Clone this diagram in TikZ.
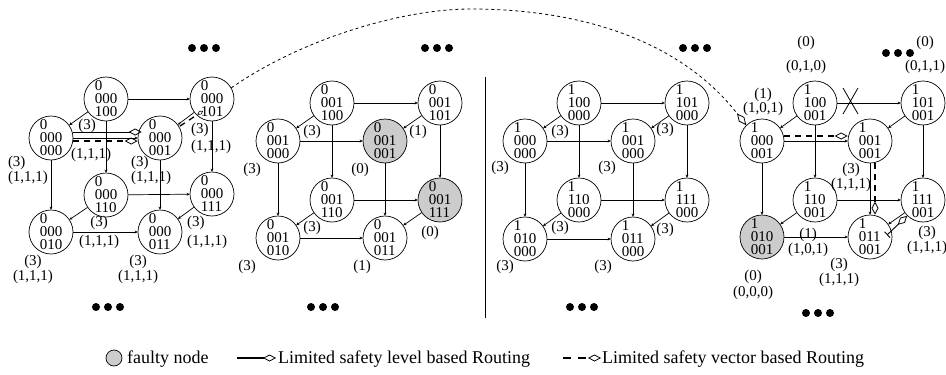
\documentclass[tikz,border=0pt]{standalone}
\usepackage{fontspec}
\setmainfont{Liberation Serif}
\usetikzlibrary{arrows.meta}

\begin{document}
\begin{tikzpicture}[x = 1pt, y = -1pt,
        vertex/.style = {draw, circle, minimum size = 44pt, inner sep = 0pt, align = left,
            line width = 0.7pt, font = \fontsize{15}{13}\selectfont},
        faulty/.style = {vertex, fill = black!20},
        lbl/.style = {inner sep = 0pt, align = center, font = \fontsize{15}{15}\selectfont},
        link/.style = {-{Stealth[length = 3pt, width = 3pt]}, line width = 0.7pt},
        levelroute/.style = {-{Diamond[open, length = 13pt, width = 7pt, line width = 0.8pt]}, line width = 0.9pt},
        vectorroute/.style = {-{Diamond[open, length = 13pt, width = 7pt, line width = 0.8pt]}, line width = 1.3pt,
            dash pattern = on 6pt off 5pt},
        legendtext/.style = {anchor = base west, inner sep = 0pt, font = \fontsize{18}{18}\selectfont}]
    \useasboundingbox (0, 0) rectangle (946, 375);

    % first cube
    \node [vertex] (A000) at (51, 138) {0\\000\\000};
    \node [vertex] (A001) at (160, 138) {0\\000\\001};
    \node [vertex] (A100) at (106, 99) {0\\000\\100};
    \node [vertex] (A101) at (212, 99) {0\\000\\101};
    \node [vertex] (A110) at (106, 195) {0\\000\\110};
    \node [vertex] (A111) at (212, 194) {0\\000\\111};
    \node [vertex] (A010) at (51, 232) {0\\000\\010};
    \node [vertex] (A011) at (160, 232) {0\\000\\011};
    \draw [link] (A000) edge (A001) edge (A010)
        (A100) edge (A101) edge (A000) edge (A110)
        (A101) edge (A001) edge (A111)
        (A110) edge (A111) edge (A010)
        (A111) edge (A011)
        (A001) edge (A011)
        (A010) edge (A011);
    \node [lbl] (A100a) at (87, 126) {(3)};
    \node [lbl] (A100b) at (91, 155) {(1,1,1)};
    \node [lbl, align = left] (A000l) at (28, 170.5) {(3)\\(1,1,1)};
    \node [lbl, align = left] (A001l) at (151, 170.5) {(3)\\(1,1,1)};
    \node [lbl, align = left] (A101l) at (211, 138.5) {(3)\\[2pt](1,1,1)};
    \node [lbl] (A110l) at (99, 232.5) {(3)\\[4pt](1,1,1)};
    \node [lbl, align = left] (A111l) at (207, 232.5) {(3)\\[4pt](1,1,1)};
    \node [lbl] (A010l) at (33, 269.5) {(3)\\(1,1,1)};
    \node [lbl] (A011l) at (138, 269.5) {(3)\\(1,1,1)};
    \fill (192, 48) circle (4pt) (204, 48) circle (4pt) (216, 48) circle (4pt);
    \fill (96, 307) circle (4pt) (108, 307) circle (4pt) (120, 307) circle (4pt);

    % second cube
    \node [vertex] (B000) at (278, 141) {0\\001\\000};
    \node [faulty] (B001) at (385, 141) {0\\001\\001};
    \node [vertex] (B100) at (332, 103) {0\\001\\100};
    \node [vertex] (B101) at (440, 103) {0\\001\\101};
    \node [vertex] (B110) at (332, 200) {0\\001\\110};
    \node [faulty] (B111) at (440, 200) {0\\001\\111};
    \node [vertex] (B010) at (278, 238) {0\\001\\010};
    \node [vertex] (B011) at (385, 238) {0\\001\\011};
    \draw [link] (B000) edge (B001) edge (B010)
        (B100) edge (B101) edge (B000) edge (B110)
        (B101) edge (B001) edge (B111)
        (B110) edge (B111) edge (B010)
        (B111) edge (B011)
        (B001) edge (B011)
        (B010) edge (B011);
    \node [lbl] (B100l) at (312, 132) {(3)};
    \node [lbl] (B101l) at (418, 132) {(1)};
    \node [lbl] (B000l) at (252, 170) {(3)};
    \node [lbl] (B001l) at (360, 170) {(0)};
    \node [lbl] (B110l) at (312, 228) {(3)};
    \node [lbl] (B111l) at (430, 233) {(0)};
    \node [lbl] (B010l) at (247, 267) {(3)};
    \node [lbl] (B011l) at (362, 267) {(1)};
    \fill (425, 48) circle (4pt) (437, 48) circle (4pt) (449, 48) circle (4pt);
    \fill (311, 307) circle (4pt) (323, 307) circle (4pt) (335, 307) circle (4pt);

    \draw [line width = 1pt] (485, 77) -- (485, 318);

    % third cube
    \node [vertex] (C000) at (525, 141) {1\\000\\000};
    \node [vertex] (C001) at (633, 141) {1\\001\\000};
    \node [vertex] (C100) at (579, 103) {1\\100\\000};
    \node [vertex] (C101) at (687, 103) {1\\101\\000};
    \node [vertex] (C110) at (579, 200) {1\\110\\000};
    \node [vertex] (C111) at (687, 200) {1\\111\\000};
    \node [vertex] (C010) at (525, 239) {1\\010\\000};
    \node [vertex] (C011) at (633, 239) {1\\011\\000};
    \draw [link] (C000) edge (C001) edge (C010)
        (C100) edge (C101) edge (C000) edge (C110)
        (C101) edge (C001) edge (C111)
        (C110) edge (C111) edge (C010)
        (C111) edge (C011)
        (C001) edge (C011)
        (C010) edge (C011);
    \node [lbl] (C100l) at (560, 132) {(3)};
    \node [lbl] (C101l) at (665, 130) {(3)};
    \node [lbl] (C000l) at (500, 168) {(3)};
    \node [lbl] (C001l) at (607, 168) {(3)};
    \node [lbl] (C110l) at (560, 228) {(3)};
    \node [lbl] (C111l) at (665, 230) {(3)};
    \node [lbl] (C010l) at (505, 267) {(3)};
    \node [lbl] (C011l) at (603, 267) {(3)};
    \fill (683, 48) circle (4pt) (695, 48) circle (4pt) (707, 48) circle (4pt);
    \fill (570, 307) circle (4pt) (582, 307) circle (4pt) (594, 307) circle (4pt);

    % fourth cube
    \node [vertex] (D000) at (762, 141) {1\\000\\001};
    \node [vertex] (D001) at (870, 141) {1\\001\\001};
    \node [vertex] (D100) at (815, 103) {1\\100\\001};
    \node [vertex] (D101) at (923, 103) {1\\101\\001};
    \node [vertex] (D110) at (815, 200) {1\\110\\001};
    \node [vertex] (D111) at (923, 200) {1\\111\\001};
    \node [faulty] (D010) at (762, 237) {1\\010\\001};
    \node [vertex] (D011) at (870, 237) {1\\011\\001};
    \draw [link] (D000) edge (D001) edge (D010)
        (D100) edge (D101) edge (D000) edge (D110)
        (D101) edge (D001) edge (D111)
        (D110) edge (D111) edge (D010)
        (D111) edge (D011)
        (D001) edge (D011)
        (D010) edge (D011);
    \draw [line width = 0.8pt] (843, 88) -- (858, 114) (858, 88) -- (843, 114);
    \node [lbl] (D100l) at (806, 55) {(0)\\[9pt](0,1,0)};
    \node [lbl] (D101l) at (925, 55) {(0)\\[9pt](0,1,1)};
    \node [lbl] (D000l) at (763, 102) {(1)\\[-1pt](1,0,1)};
    \node [lbl] (D001l) at (851, 177.5) {(3)\\(1,1,1)};
    \node [lbl] (D110l) at (808, 242.5) {(1)\\(1,0,1)};
    \node [lbl] (D111l) at (927, 240.5) {(3)\\(1,1,1)};
    \node [lbl] (D011l) at (839, 272.5) {(3)\\(1,1,1)};
    \node [lbl] (D010l) at (753, 285) {(0)\\[1pt](0,0,0)};
    \fill (886, 53) circle (4pt) (898, 53) circle (4pt) (910, 53) circle (4pt);
    \fill (806, 313) circle (4pt) (818, 313) circle (4pt) (830, 313) circle (4pt);

    % routes
    \draw [levelroute] ([yshift = 6pt]A000.east) -- ([xshift = 4pt, yshift = 6pt]A001.west);
    \draw [vectorroute] ([yshift = -3pt]A000.east) -- ([yshift = -3pt]A001.west);
    \draw [vectorroute, -{Diamond[open, length = 7pt, width = 4pt, line width = 0.6pt]}]
        ([xshift = 4pt, yshift = -4pt]A001.north east) -- ([xshift = 7pt, yshift = 4pt]A101.south west);
    \draw [dashed, line width = 0.8pt, -{Diamond[open, length = 15pt, width = 7pt]}]
        (A101.30) .. controls (300, 40) and (400, 9) .. (471, 9)
        .. controls (580, 9) and (680, 40) .. (D000.north west);
    \draw [vectorroute] ([yshift = 5pt]D000.east) -- ([yshift = 5pt]D001.west);
    \draw [vectorroute] ([xshift = 5pt]D001.south) -- ([xshift = 5pt]D011.north);
    \draw [levelroute, {Bar[width = 8pt]}-{Diamond[open, length = 13pt, width = 7pt, line width = 0.8pt]}]
        ([xshift = 17pt, yshift = 2pt]D011.center) -- (D111.225);

    % legend
    \node [faulty, minimum size = 16pt] (key) at (114, 358) {};
    \node [legendtext] (keytext) at (127, 363) {faulty node};
    \coordinate (lvA) at (237, 358);
    \coordinate (lvB) at (276, 358);
    \draw [levelroute, line width = 1.4pt] (lvA) -- (lvB);
    \node [legendtext] (lvtext) at (278, 363) {Limited safety level based Routing};
    \coordinate (vcA) at (563, 358);
    \coordinate (vcB) at (601, 358);
    \draw [vectorroute, dash pattern = on 8pt off 7pt] (vcA) -- (vcB);
    \node [legendtext] (vctext) at (602, 363) {Limited safety vector based Routing};
\end{tikzpicture}
\end{document}
